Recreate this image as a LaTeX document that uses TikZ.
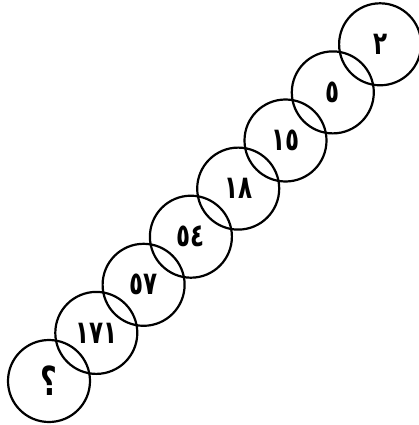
\documentclass[tikz,border=0pt]{standalone}
\usepackage{fontspec}
\newfontfamily\arabicfont[Script=Arabic,FakeStretch=0.72]{DejaVu Sans}
\begin{document}
\begin{tikzpicture}[x=1pt,y=-1pt,
  ring/.style={circle,draw=black,line width=2.2pt,minimum size=82pt,inner sep=0pt,
    font=\arabicfont\bfseries\fontsize{32}{34}\selectfont}]
\useasboundingbox (0,0) rectangle (419,425);
\foreach \i/\t in {1/١٧١,2/٥٧,3/٥٤,4/١٨,5/١٥,6/٥,7/٢}{
  \node[ring] (c\i) at ({49+47.3*\i},{381-48.1*\i}) {\t};
}
\node[ring,font=\arabicfont\bfseries\fontsize{40}{42}\selectfont] (c0) at (49,381) {؟};
\end{tikzpicture}
\end{document}
